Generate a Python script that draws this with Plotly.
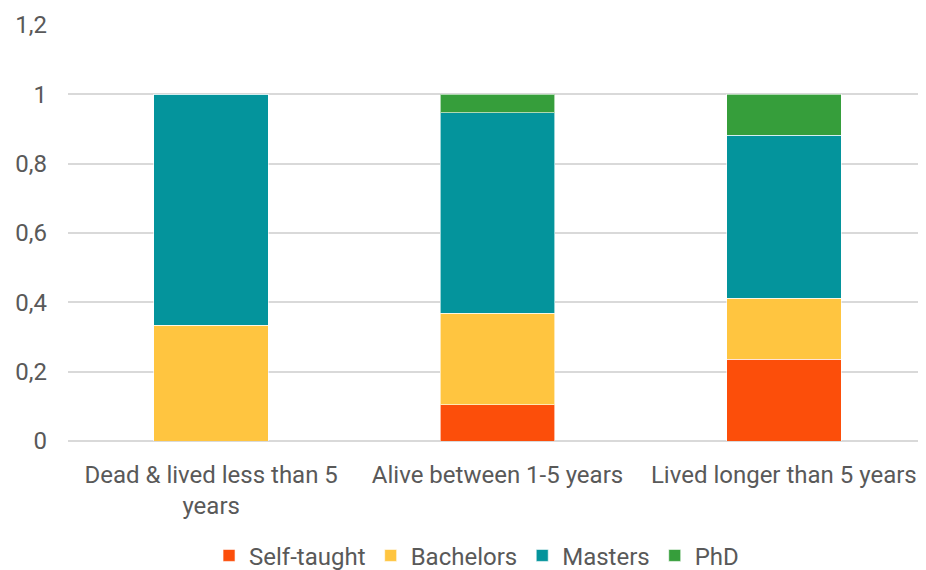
import plotly.graph_objects as go

categories = ['Dead & lived less than 5<br>years', 'Alive between 1-5 years', 'Lived longer than 5 years']
self_taught = [0, 2/19, 4/17]
bachelors = [1/3, 5/19, 3/17]
masters = [2/3, 11/19, 8/17]
phd = [0, 1/19, 2/17]

series = [('Self-taught', self_taught, '#FC4E0A'),
          ('Bachelors', bachelors, '#FFC540'),
          ('Masters', masters, '#04949C'),
          ('PhD', phd, '#369E3B')]

fig = go.Figure()
for name, vals, col in series:
    fig.add_trace(go.Bar(x=categories, y=vals, name=name, marker=dict(color=col, line=dict(color='rgba(255,255,255,0.6)', width=1))))

# page body has an 8px margin, so the figure is made 8px bigger and margins shifted
fig.update_layout(barmode='stack', bargap=0.6, width=934, height=578,
                  paper_bgcolor='white', plot_bgcolor='white', separators=', ',
                  font=dict(family='Roboto', size=24, color='#595959'),
                  margin=dict(l=60, r=15, t=17, b=145, autoexpand=False),
                  legend=dict(orientation='h', x=0.4756, xanchor='center', y=-0.276, yanchor='middle',
                              font=dict(size=24), itemwidth=30, traceorder='normal'))
fig.update_yaxes(range=[0, 1.2], dtick=0.2, gridcolor='#d9d9d9', gridwidth=1.5,
                 zeroline=True, zerolinecolor='#d9d9d9', zerolinewidth=1.5,
                 ticklabelstandoff=20, showline=False, automargin=False)
fig.update_xaxes(showline=False, ticks='', tickfont=dict(size=24), ticklabelstandoff=17, automargin=False)
fig.write_html("out.html")
